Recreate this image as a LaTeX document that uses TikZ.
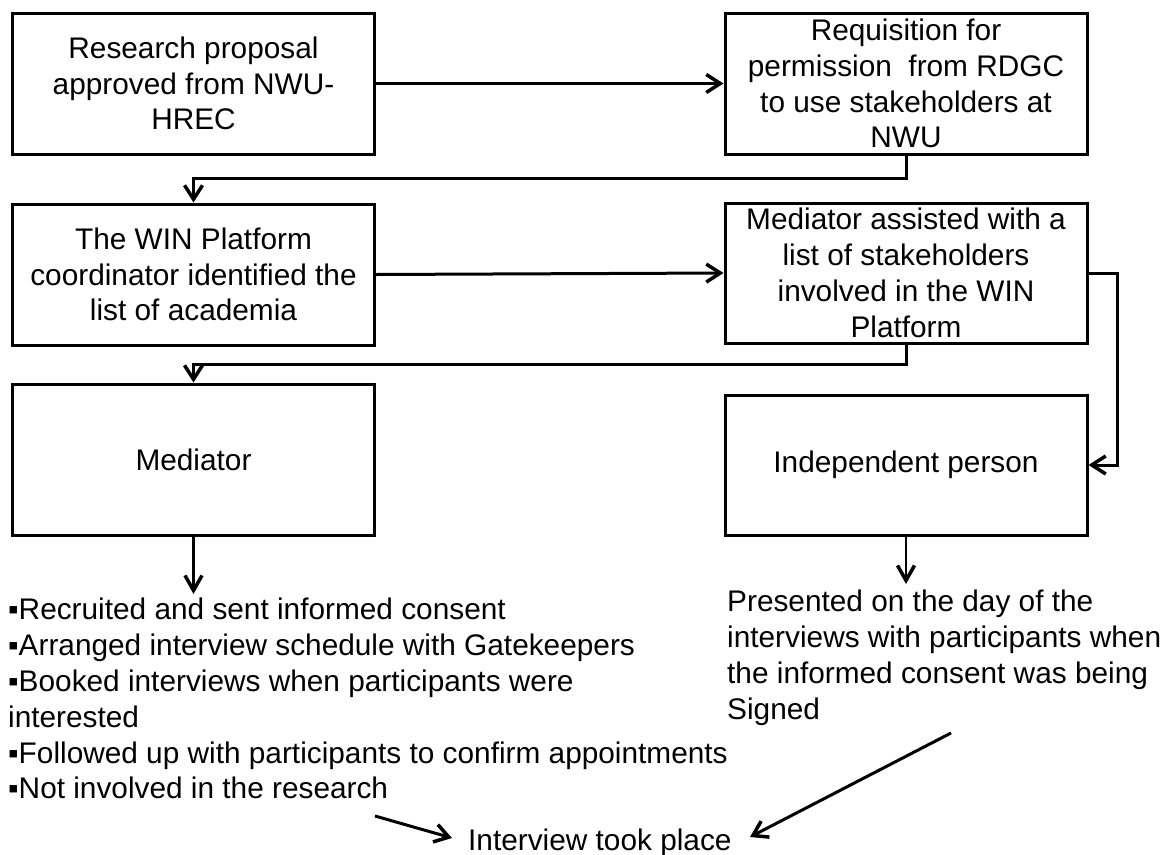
\documentclass[tikz,border=0pt]{standalone}
\usepackage{fontspec}
\setmainfont{Liberation Sans}
\usetikzlibrary{arrows.meta}
\begin{document}
\begin{tikzpicture}[x=1pt,y=-1pt,
  every node/.style={font=\fontsize{29.8}{35.8}\selectfont, inner sep=0pt},
  stepbox/.style={draw, line width=3pt, minimum width=362pt, align=center},
  conn/.style={line width=3pt, -{Straight Barb[length=14pt,width=18pt,line width=3.5pt]}},
  thinconn/.style={line width=2.5pt, -{Straight Barb[length=15pt,width=17pt,line width=3.5pt]}}]
\useasboundingbox (0,0) rectangle (1164,854);
\node[stepbox, minimum height=141pt] (b1) at (193.5,83.5) {Research proposal\\approved from NWU-\\HREC};
\node[stepbox, minimum height=141pt] (b2) at (906,83.5) {Requisition for\\permission \ from RDGC\\to use stakeholders at\\NWU};
\node[stepbox, minimum height=141pt] (b3) at (193.5,274.5) {The WIN Platform\\coordinator identified the\\list of academia};
\node[stepbox, minimum height=140pt] (b4) at (906,273) {Mediator assisted with a\\list of stakeholders\\involved in the WIN\\Platform};
\node[stepbox, minimum height=151pt] (b5) at (193.5,459.5) {Mediator};
\node[stepbox, minimum height=140pt] (b6) at (906,465) {Independent person};
\node[anchor=north west, align=left] (tasks) at (8,598) {▪Recruited and sent informed consent\\▪Arranged interview schedule with Gatekeepers\\▪Booked interviews when participants were\\interested\\▪Followed up with participants to confirm appointments\\▪Not involved in the research};
\node[anchor=north west, align=left] (pres) at (727,590) {Presented on the day of the\\interviews with participants when\\the informed consent was being\\Signed};
\node[anchor=base west] (itp) at (468,850) {Interview took place};
\coordinate (t1) at (193.5,594);
\coordinate (t2) at (906,584);
\coordinate (s1) at (375,816);
\coordinate (s2) at (951,733);
\draw[conn] (b1.east) -- (b2.west);
\draw[conn] (b2.south) |- (193.5,178) -- (b3.north);
\draw[conn] (b3.east) -- (b4.west);
\draw[conn] (b4.south) |- (193.5,364) -- (b5.north);
\draw[conn] (b4.east) -| (1117,465) -- (b6.east);
\draw[thinconn] (b5.south) -- (t1);
\draw[thinconn] (b6.south) -- (t2);
\draw[conn] (s1) -- (452,838);
\draw[conn] (s2) -- (750,837);
\end{tikzpicture}
\end{document}
